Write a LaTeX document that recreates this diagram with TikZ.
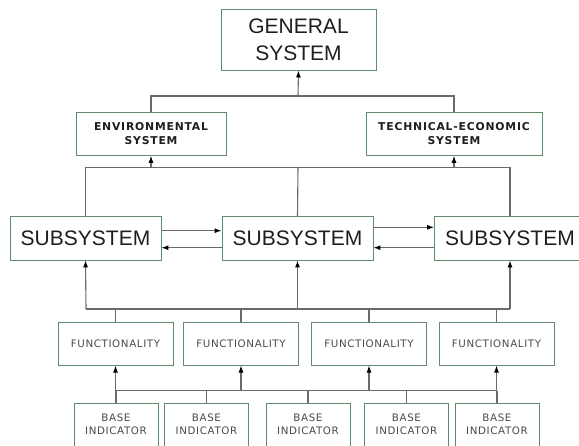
\documentclass[tikz,border=0pt]{standalone}
\usepackage{fontspec}
\setmainfont{Liberation Sans}
\newfontfamily\verd{DejaVu Sans}
\newfontfamily\verdsp[LetterSpace=6]{DejaVu Sans}
\newfontfamily\verdbsp[LetterSpace=7.5]{DejaVu Sans Bold}
\usetikzlibrary{arrows.meta}
\definecolor{boxc}{HTML}{5E8C6C}
\definecolor{linec}{HTML}{6A6A6A}
\definecolor{txt}{HTML}{1E1E1E}
\tikzset{
  box/.style={draw=boxc, line width=0.9pt, fill=white, text=txt, align=center, inner sep=0pt, minimum height=#1},
  big/.style={font=\fontsize{21}{26.7}\selectfont},
  mid/.style={font=\verdbsp\fontsize{10.8}{14.3}\selectfont},
  sml/.style={font=\verdsp\fontsize{10.3}{13}\selectfont, text=txt!80!white},
  conn/.style={draw=linec, line width=1.1pt},
  arr/.style={conn, -{Latex[length=7pt,width=5pt,color=black]}},
}
\begin{document}
\begin{tikzpicture}[x=1pt,y=-1pt]
\useasboundingbox (0,0) rectangle (579,445);
\clip (0,0) rectangle (579,445);
% nodes
\node[box=60.7pt, big, minimum width=155pt] (gen) at (298.5,39.7) {GENERAL\\SYSTEM};
\node[box=43.3pt, mid, minimum width=150pt] (env) at (151,133.7) {ENVIRONMENTAL\\SYSTEM};
\node[box=43.3pt, mid, minimum width=176pt] (tech) at (454,133.7) {TECHNICAL-ECONOMIC\\SYSTEM};
\node[box=43.3pt, big, minimum width=151pt] (s1) at (85.5,238.3) {SUBSYSTEM};
\node[box=43.3pt, big, minimum width=151pt] (s2) at (297.5,238.3) {SUBSYSTEM};
\node[box=43.3pt, big, minimum width=151pt] (s3) at (510,238.3) {SUBSYSTEM};
\foreach \i/\x in {1/115.5,2/241,3/369,4/496.5}
  \node[box=42.7pt, sml, minimum width=115pt] (f\i) at (\x,343.7) {FUNCTIONALITY};
\foreach \i/\x in {1/116,2/206.5,3/308,4/406.5,5/497}
  \node[box=42.5pt, sml, minimum width=84pt] (b\i) at (\x,424.7) {BASE\\INDICATOR};
% junctions
\coordinate (jt) at (298,96);
\coordinate (jm) at (298,167.7);
\coordinate (jsl) at (86,309);
\coordinate (jsr) at (510,309);
\coordinate (jfl) at (116,390.7);
\coordinate (jfr) at (497,390.7);
% top level
\draw[conn] (env.north) |- (jt) -| (tech.north);
\draw[arr] (jt) -- (gen.south);
% middle bus
\draw[conn] (s1.north) |- (jm) -| (s3.north);
\draw[conn] (s2.north) -- (jm);
\draw[arr] (env.south |- jm) -- (env.south);
\draw[arr] (tech.south |- jm) -- (tech.south);
% subsystem links
\draw[arr] ([yshift=7.6pt]s1.east) -- ([yshift=7.6pt]s2.west);
\draw[arr] ([yshift=-9.4pt]s2.west) -- ([yshift=-9.4pt]s1.east);
\draw[arr] ([yshift=11pt]s2.east) -- ([yshift=11pt]s3.west);
\draw[arr] ([yshift=-9.4pt]s3.west) -- ([yshift=-9.4pt]s2.east);
% subsystem bus
\draw[conn] (jsl) -- (jsr);
\draw[arr] (jsl) -- (s1.south);
\draw[arr] (s2.south |- jsl) -- (s2.south);
\draw[arr] (jsr) -- (s3.south);
\foreach \i in {1,...,4} \draw[conn] (f\i.north) -- (f\i.north |- jsl);
% functionality bus
\draw[conn] (jfl) -- (jfr);
\foreach \i in {1,...,4} \draw[arr] (f\i.south |- jfl) -- (f\i.south);
\foreach \i in {1,...,5} \draw[conn] (b\i.north) -- (b\i.north |- jfl);
\end{tikzpicture}
\end{document}
